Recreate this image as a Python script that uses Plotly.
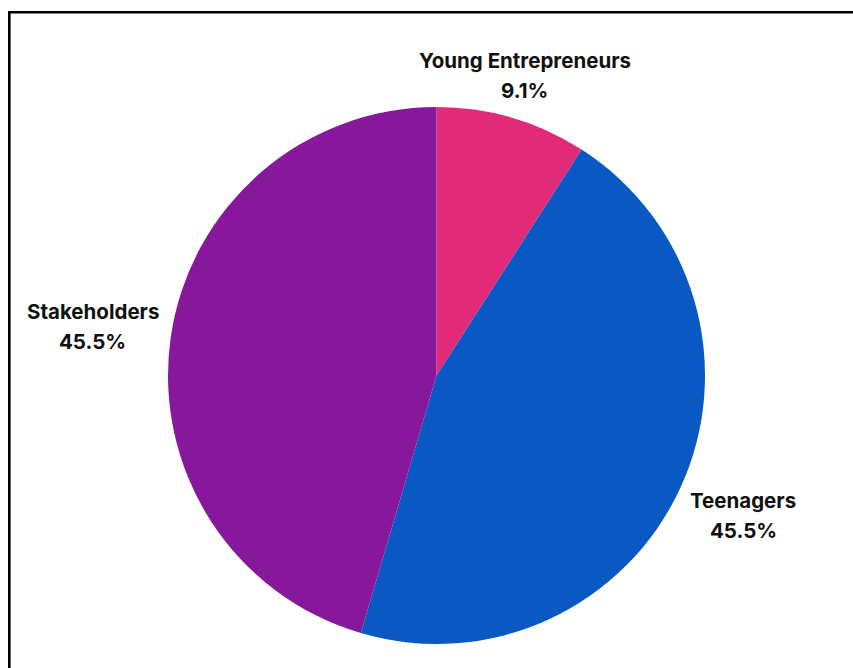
import math
import plotly.graph_objects as go

labels = ["Young Entrepreneurs", "Teenagers", "Stakeholders"]
values = [1, 5, 5]
colors = ["#e22b78", "#0a58c4", "#87179b"]

W, H = 853, 668
# pie box (pixels)
L, R, T, B = 168, 705, 107, 644
CX, CY = (L + R) / 2, (T + B) / 2
RAD = (R - L) / 2

# label placement style: distance from centre as a multiple of the radius
label_dist = [1.164, 1.255, 1.294]
LINE_GAP = 30
FONT = dict(family="Inter", size=20.5, color="#111111")

fig = go.Figure(go.Pie(
    labels=labels,
    values=values,
    marker=dict(colors=colors, line=dict(width=0)),
    sort=False,
    direction="clockwise",
    rotation=0,
    textinfo="none",
    showlegend=False,
    hoverinfo="label+percent",
))


def px(x):
    return (x - L) / (R - L)


def py(y):
    return (B - y) / (B - T)


total = sum(values)
annotations = []
cum = 0
for lab, v, k in zip(labels, values, label_dist):
    mid = (cum + v / 2) / total * 2 * math.pi
    cum += v
    lx = CX + k * RAD * math.sin(mid)
    ly = CY - k * RAD * math.cos(mid)
    pct = f"{100 * v / total:.1f}%"
    for txt, off in ((lab, -LINE_GAP / 2), (pct, LINE_GAP / 2)):
        annotations.append(dict(
            x=px(lx), y=py(ly + off), xref="paper", yref="paper",
            text=f"<b>{txt}</b>", showarrow=False,
            xanchor="center", yanchor="middle", font=FONT,
        ))

fig.update_layout(
    width=W, height=H,
    margin=dict(l=L, r=W - R, t=T, b=H - B, autoexpand=False),
    paper_bgcolor="white",
    plot_bgcolor="white",
    annotations=annotations,
    shapes=[dict(type="rect", xref="paper", yref="paper",
                 x0=px(9.3), x1=px(W + 20), y0=py(H + 20), y1=py(12.2),
                 line=dict(color="black", width=2.6), layer="above")],
)

fig.write_html("out.html")
